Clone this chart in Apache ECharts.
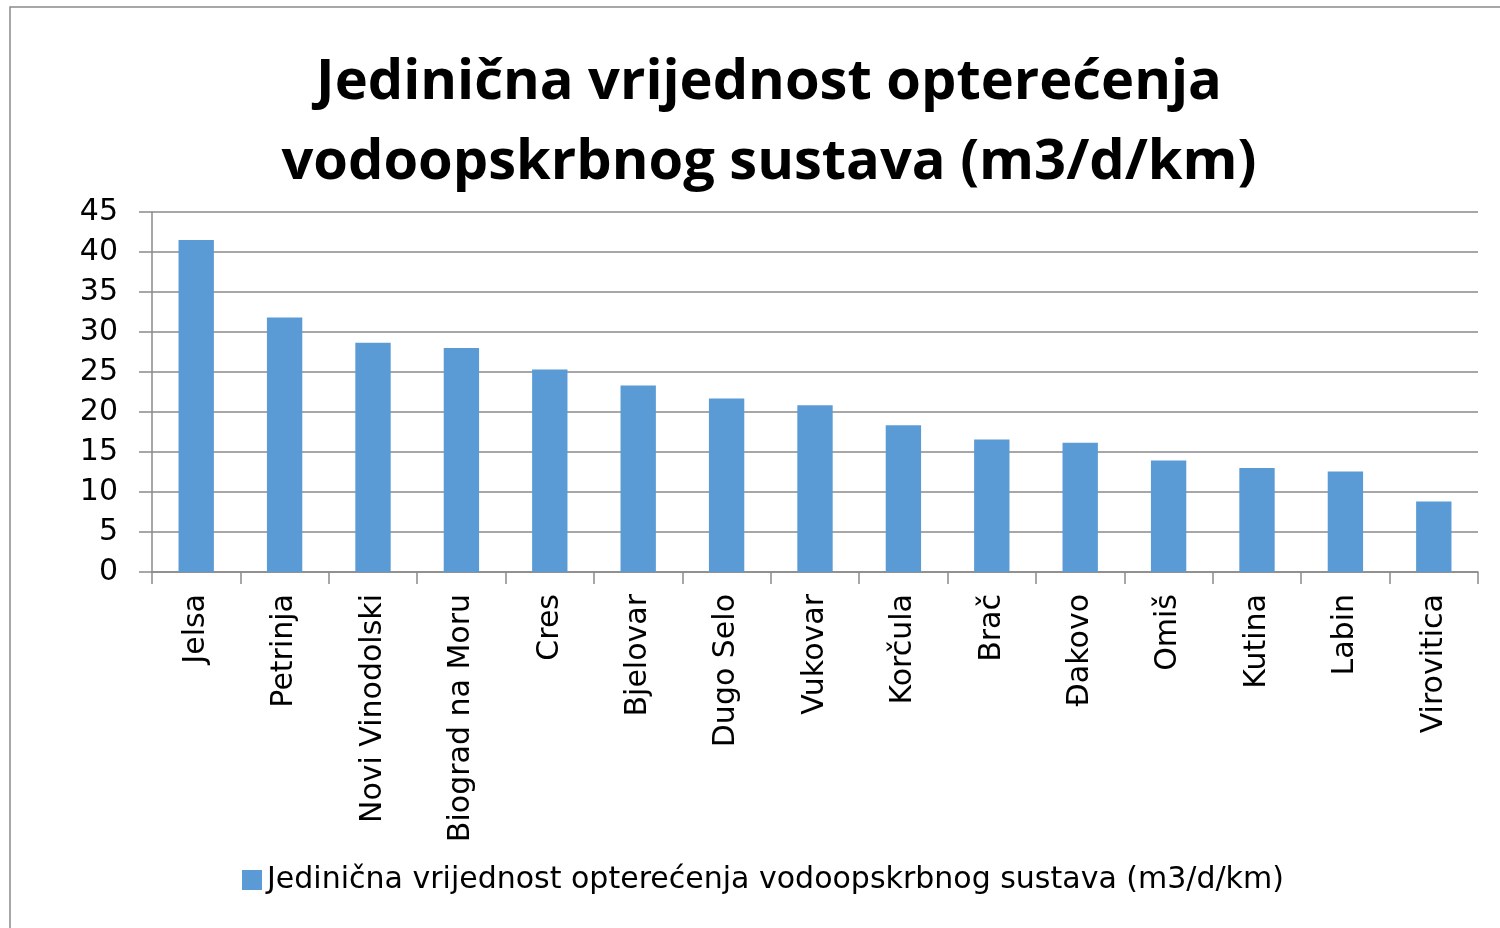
<!DOCTYPE html>
<html>
<head>
<meta charset="utf-8">
<script src="https://cdn.jsdelivr.net/npm/echarts@6/dist/echarts.min.js"></script>
<style>
  html, body { margin: 0; padding: 0; background: #fff; }
  #chart { width: 1500px; height: 928px; }
</style>
</head>
<body>
<div id="chart"></div>
<script>
const seriesName = 'Jedinična vrijednost opterećenja vodoopskrbnog sustava (m3/d/km)';
const towns = ['Jelsa', 'Petrinja', 'Novi Vinodolski', 'Biograd na Moru', 'Cres', 'Bjelovar', 'Dugo Selo',
  'Vukovar', 'Korčula', 'Brač', 'Đakovo', 'Omiš', 'Kutina', 'Labin', 'Virovitica'];
const values = [41.5, 31.8, 28.65, 28.0, 25.3, 23.3, 21.7, 20.85, 18.35, 16.55, 16.15, 13.95, 13.0, 12.55, 8.8];

const chart = echarts.init(document.getElementById('chart'));
const font = '"DejaVu Sans", sans-serif';

chart.setOption({
  animation: false,
  backgroundColor: '#fff',
  graphic: [{
    type: 'rect',
    shape: { x: 10, y: 7, width: 1500, height: 940 },
    style: { fill: 'none', stroke: '#8a8a8a', lineWidth: 1.5 }
  }],
  title: {
    text: 'Jedinična vrijednost opterećenja\nvodoopskrbnog sustava (m3/d/km)',
    left: 764,
    textAlign: 'center',
    top: 38,
    textStyle: {
      fontFamily: '"Open Sans", sans-serif',
      fontWeight: 'bold',
      fontSize: 56,
      lineHeight: 80,
      color: '#000'
    }
  },
  legend: {
    data: [seriesName],
    icon: 'rect',
    left: 237,
    top: 860,
    itemWidth: 20,
    itemHeight: 20,
    itemGap: 10,
    textStyle: { fontFamily: font, fontSize: 30, color: '#000' }
  },
  grid: { left: 152, right: 22, top: 212, bottom: 356 },
  xAxis: {
    type: 'category',
    data: towns,
    axisLine: { lineStyle: { color: '#8a8a8a', width: 1.5 } },
    axisTick: { show: true, length: 12, lineStyle: { color: '#8a8a8a', width: 1.5 } },
    axisLabel: {
      interval: 0,
      rotate: 90,
      margin: 22,
      fontFamily: font,
      fontSize: 30,
      color: '#000'
    }
  },
  yAxis: {
    type: 'value',
    min: 0,
    max: 45,
    interval: 5,
    axisLine: { show: true, lineStyle: { color: '#8a8a8a', width: 1.5 } },
    axisTick: { show: true, length: 13, lineStyle: { color: '#8a8a8a', width: 1.5 } },
    splitLine: { lineStyle: { color: '#8a8a8a', width: 1.5 } },
    axisLabel: {
      margin: 34,
      fontFamily: font,
      fontSize: 30,
      color: '#000'
    }
  },
  series: [{
    name: seriesName,
    type: 'bar',
    data: values,
    barWidth: '40%',
    itemStyle: { color: '#5B9BD5' }
  }]
});
</script>
</body>
</html>
